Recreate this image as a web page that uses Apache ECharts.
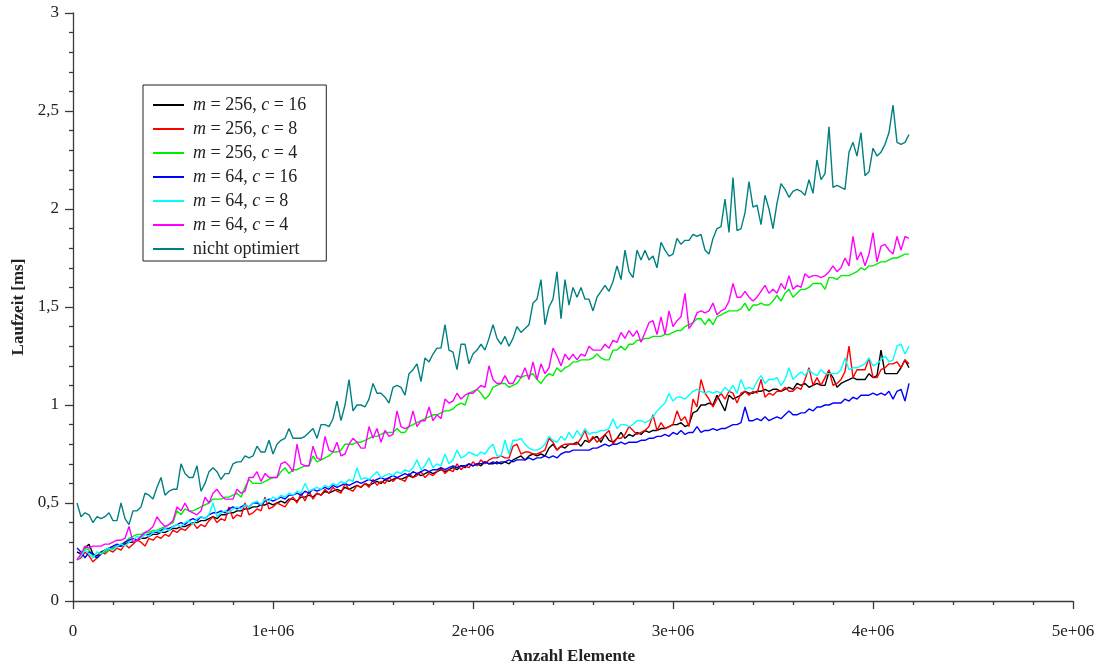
<!DOCTYPE html>
<html>
<head>
<meta charset="utf-8">
<script src="https://cdn.jsdelivr.net/npm/echarts@6/dist/echarts.min.js"></script>
<style>
html,body{margin:0;padding:0;background:#fff;}
#chart{width:1101px;height:664px;}
</style>
</head>
<body>
<div id="chart"></div>
<script>
// x sampling: elements count, step 20000 (209 samples)
const xStep = 20000;

const seriesNames = ['m = 256, c = 16','m = 256, c = 8','m = 256, c = 4','m = 64, c = 16','m = 64, c = 8','m = 64, c = 4','nicht optimiert'];
const seriesColors = ['#000000','#ff0000','#00ee00','#0000ff','#00ffff','#ff00ff','#008080'];

const m256c16 = [
0.25,0.24,0.27,0.29,0.24,0.23,0.25,0.26,0.27,0.27,
0.28,0.28,0.29,0.30,0.30,0.31,0.32,0.32,0.33,0.34,
0.34,0.35,0.35,0.36,0.37,0.37,0.38,0.38,0.39,0.40,
0.40,0.41,0.41,0.42,0.43,0.42,0.44,0.44,0.45,0.45,
0.46,0.46,0.47,0.47,0.48,0.48,0.49,0.49,0.50,0.49,
0.50,0.51,0.50,0.52,0.52,0.51,0.53,0.53,0.54,0.53,
0.55,0.54,0.56,0.55,0.56,0.57,0.56,0.58,0.57,0.58,
0.59,0.58,0.60,0.59,0.60,0.61,0.60,0.62,0.61,0.62,
0.63,0.62,0.63,0.64,0.63,0.65,0.64,0.65,0.66,0.65,
0.66,0.67,0.66,0.67,0.68,0.67,0.69,0.68,0.70,0.69,
0.70,0.69,0.71,0.70,0.70,0.71,0.70,0.71,0.70,0.72,
0.73,0.74,0.72,0.74,0.75,0.74,0.75,0.74,0.78,0.80,
0.77,0.79,0.78,0.80,0.80,0.81,0.79,0.82,0.81,0.83,
0.84,0.81,0.85,0.82,0.81,0.83,0.86,0.83,0.85,0.84,
0.86,0.85,0.87,0.86,0.87,0.87,0.88,0.88,0.89,0.90,
0.90,0.91,0.89,0.90,0.96,0.97,1.00,1.00,1.01,1.00,
1.05,1.01,0.97,1.05,1.03,1.04,1.05,1.07,1.06,1.06,
1.07,1.07,1.08,1.07,1.08,1.08,1.07,1.08,1.09,1.08,
1.11,1.10,1.11,1.09,1.10,1.11,1.10,1.10,1.17,1.14,
1.09,1.11,1.12,1.13,1.14,1.13,1.13,1.13,1.16,1.14,
1.15,1.28,1.16,1.16,1.16,1.16,1.19,1.23,1.19];

const m256c8 = [
0.21,0.22,0.25,0.23,0.20,0.22,0.25,0.24,0.26,0.25,
0.27,0.26,0.29,0.27,0.29,0.31,0.30,0.28,0.32,0.31,
0.33,0.32,0.34,0.33,0.36,0.35,0.37,0.36,0.38,0.40,
0.37,0.39,0.38,0.41,0.43,0.40,0.42,0.41,0.48,0.42,
0.44,0.43,0.50,0.44,0.45,0.47,0.46,0.53,0.47,0.48,
0.50,0.49,0.48,0.51,0.53,0.50,0.55,0.51,0.56,0.52,
0.55,0.54,0.57,0.55,0.58,0.56,0.55,0.60,0.57,0.56,
0.59,0.58,0.60,0.58,0.62,0.59,0.61,0.60,0.63,0.61,
0.63,0.62,0.61,0.65,0.63,0.64,0.66,0.63,0.65,0.64,
0.66,0.68,0.65,0.67,0.66,0.70,0.67,0.69,0.68,0.71,
0.69,0.72,0.70,0.72,0.73,0.73,0.74,0.73,0.73,0.79,
0.80,0.75,0.76,0.76,0.75,0.75,0.76,0.77,0.83,0.81,
0.77,0.79,0.80,0.80,0.80,0.80,0.83,0.87,0.81,0.84,
0.81,0.83,0.85,0.87,0.80,0.83,0.83,0.85,0.89,0.87,
0.85,0.86,0.87,0.89,0.95,0.87,0.91,0.88,0.89,0.90,
0.97,0.92,0.94,0.89,1.03,0.99,1.13,1.06,1.03,0.99,
1.03,1.06,1.03,1.07,1.06,1.01,1.06,1.07,1.05,1.07,
1.06,1.13,1.04,1.06,1.05,1.07,1.07,1.09,1.07,1.07,
1.09,1.08,1.13,1.19,1.10,1.14,1.10,1.14,1.18,1.10,
1.11,1.13,1.17,1.30,1.14,1.18,1.18,1.18,1.24,1.14,
1.14,1.18,1.19,1.21,1.21,1.22,1.19,1.23,1.21];

const m256c4 = [
0.21,0.23,0.27,0.26,0.23,0.22,0.24,0.25,0.26,0.27,
0.28,0.29,0.30,0.32,0.33,0.34,0.34,0.35,0.35,0.36,
0.36,0.37,0.38,0.39,0.40,0.46,0.44,0.47,0.46,0.46,
0.47,0.48,0.49,0.50,0.52,0.52,0.52,0.53,0.53,0.54,
0.55,0.53,0.58,0.62,0.60,0.60,0.60,0.61,0.62,0.63,
0.63,0.66,0.68,0.65,0.67,0.67,0.68,0.69,0.69,0.74,
0.71,0.72,0.73,0.74,0.76,0.76,0.77,0.80,0.80,0.80,
0.81,0.81,0.82,0.83,0.84,0.84,0.85,0.86,0.86,0.86,
0.88,0.86,0.86,0.89,0.90,0.91,0.92,0.93,0.94,0.95,
0.95,0.96,0.97,0.97,0.98,1.00,1.01,1.00,1.06,1.07,
1.08,1.06,1.03,1.05,1.09,1.10,1.11,1.11,1.09,1.10,
1.11,1.14,1.15,1.15,1.16,1.13,1.11,1.14,1.16,1.15,
1.19,1.17,1.19,1.20,1.22,1.22,1.23,1.23,1.23,1.24,
1.26,1.24,1.23,1.23,1.28,1.28,1.30,1.28,1.31,1.31,
1.33,1.33,1.34,1.34,1.35,1.35,1.35,1.36,1.36,1.37,
1.38,1.38,1.40,1.41,1.42,1.44,1.44,1.41,1.44,1.41,
1.45,1.46,1.47,1.48,1.48,1.48,1.49,1.52,1.48,1.51,
1.51,1.52,1.51,1.51,1.53,1.56,1.53,1.57,1.59,1.55,
1.57,1.59,1.59,1.60,1.62,1.62,1.62,1.59,1.65,1.65,
1.64,1.66,1.66,1.66,1.67,1.68,1.70,1.69,1.71,1.71,
1.72,1.73,1.73,1.74,1.75,1.75,1.76,1.77,1.77];

const m64c16 = [
0.27,0.25,0.22,0.25,0.24,0.22,0.24,0.26,0.27,0.28,
0.29,0.28,0.30,0.31,0.32,0.31,0.33,0.34,0.34,0.35,
0.35,0.36,0.37,0.37,0.38,0.39,0.40,0.39,0.41,0.42,
0.41,0.43,0.42,0.44,0.45,0.45,0.46,0.45,0.47,0.48,
0.47,0.48,0.49,0.48,0.50,0.50,0.49,0.51,0.52,0.51,
0.52,0.53,0.52,0.54,0.54,0.55,0.54,0.56,0.55,0.57,
0.56,0.57,0.58,0.57,0.59,0.58,0.59,0.60,0.59,0.60,
0.61,0.60,0.61,0.62,0.61,0.62,0.63,0.62,0.63,0.64,
0.63,0.64,0.65,0.64,0.66,0.65,0.66,0.67,0.66,0.67,
0.67,0.68,0.67,0.68,0.69,0.68,0.69,0.69,0.70,0.69,
0.70,0.70,0.71,0.70,0.71,0.70,0.71,0.71,0.72,0.71,
0.72,0.72,0.72,0.73,0.72,0.73,0.73,0.74,0.73,0.74,
0.73,0.75,0.76,0.76,0.77,0.77,0.77,0.77,0.77,0.78,
0.78,0.79,0.80,0.79,0.80,0.80,0.81,0.80,0.81,0.81,
0.81,0.82,0.82,0.83,0.83,0.84,0.84,0.85,0.84,0.86,
0.85,0.87,0.85,0.86,0.86,0.89,0.86,0.87,0.87,0.88,
0.87,0.88,0.88,0.89,0.90,0.90,0.91,0.99,0.92,0.92,
0.93,0.92,0.94,0.92,0.93,0.94,0.93,0.95,0.97,0.95,
0.95,0.96,0.96,0.98,0.97,0.99,0.99,1.00,1.00,1.01,
1.01,1.01,1.03,1.02,1.04,1.03,1.05,1.05,1.05,1.06,
1.05,1.06,1.05,1.07,1.03,1.07,1.08,1.02,1.11];

const m64c8 = [
0.21,0.23,0.26,0.24,0.22,0.25,0.24,0.26,0.27,0.26,
0.28,0.29,0.28,0.30,0.31,0.33,0.32,0.34,0.33,0.35,
0.36,0.35,0.37,0.36,0.38,0.39,0.38,0.40,0.41,0.39,
0.42,0.43,0.42,0.44,0.50,0.43,0.45,0.46,0.45,0.47,
0.48,0.47,0.49,0.48,0.50,0.51,0.49,0.52,0.51,0.53,
0.52,0.54,0.53,0.55,0.54,0.56,0.55,0.60,0.56,0.57,
0.58,0.57,0.59,0.58,0.60,0.59,0.61,0.60,0.62,0.61,
0.68,0.62,0.63,0.62,0.64,0.66,0.63,0.64,0.65,0.64,
0.66,0.65,0.67,0.66,0.68,0.72,0.67,0.69,0.73,0.68,
0.70,0.69,0.75,0.70,0.72,0.77,0.73,0.74,0.76,0.75,
0.74,0.76,0.75,0.78,0.80,0.74,0.74,0.82,0.75,0.82,
0.82,0.83,0.80,0.78,0.77,0.77,0.78,0.80,0.84,0.82,
0.81,0.84,0.82,0.86,0.83,0.87,0.84,0.88,0.85,0.86,
0.86,0.87,0.87,0.88,0.93,0.88,0.90,0.90,0.89,0.90,
0.92,0.92,0.91,0.92,0.94,0.97,0.99,1.01,1.06,1.02,
1.04,1.04,1.03,1.05,1.07,1.08,1.07,1.06,1.07,1.06,
1.07,1.06,1.09,1.07,1.10,1.06,1.13,1.08,1.09,1.08,
1.12,1.15,1.11,1.13,1.13,1.14,1.10,1.13,1.19,1.13,
1.15,1.17,1.15,1.18,1.16,1.15,1.18,1.16,1.16,1.16,
1.16,1.18,1.24,1.18,1.19,1.19,1.20,1.21,1.24,1.20,
1.21,1.23,1.25,1.22,1.23,1.30,1.31,1.26,1.30];

const m64c4 = [
0.21,0.24,0.28,0.27,0.28,0.28,0.28,0.29,0.29,0.30,
0.31,0.31,0.32,0.38,0.30,0.31,0.33,0.35,0.36,0.38,
0.43,0.40,0.38,0.39,0.41,0.48,0.46,0.50,0.46,0.45,
0.44,0.46,0.53,0.50,0.55,0.57,0.54,0.52,0.52,0.52,
0.57,0.55,0.56,0.63,0.63,0.66,0.61,0.65,0.63,0.63,
0.63,0.70,0.71,0.69,0.66,0.80,0.70,0.69,0.69,0.79,
0.73,0.72,0.84,0.77,0.76,0.81,0.74,0.75,0.80,0.83,
0.81,0.78,0.78,0.89,0.83,0.88,0.81,0.87,0.84,0.85,
0.97,0.89,0.88,0.89,0.97,0.89,0.92,0.92,0.99,0.92,
0.95,0.93,1.03,1.01,1.02,1.06,1.03,1.05,1.06,1.06,
1.08,1.10,1.09,1.20,1.13,1.11,1.11,1.15,1.11,1.11,
1.15,1.14,1.19,1.13,1.22,1.13,1.21,1.16,1.19,1.29,
1.25,1.20,1.26,1.23,1.26,1.23,1.26,1.25,1.30,1.28,
1.28,1.28,1.31,1.29,1.33,1.32,1.37,1.34,1.38,1.35,
1.38,1.32,1.37,1.42,1.43,1.36,1.45,1.36,1.48,1.40,
1.43,1.45,1.57,1.39,1.42,1.47,1.48,1.47,1.48,1.52,
1.46,1.48,1.49,1.53,1.62,1.55,1.55,1.58,1.55,1.53,
1.55,1.58,1.61,1.57,1.59,1.57,1.62,1.59,1.66,1.59,
1.61,1.60,1.67,1.65,1.66,1.66,1.65,1.66,1.68,1.71,
1.68,1.70,1.75,1.71,1.86,1.74,1.78,1.71,1.77,1.88,
1.73,1.81,1.82,1.79,1.77,1.86,1.79,1.86,1.85];

const nichtOptimiert = [
0.50,0.43,0.45,0.44,0.40,0.43,0.42,0.43,0.45,0.41,
0.41,0.50,0.42,0.39,0.46,0.46,0.48,0.55,0.54,0.52,
0.58,0.63,0.54,0.56,0.57,0.57,0.70,0.65,0.63,0.63,
0.69,0.56,0.60,0.66,0.68,0.66,0.62,0.65,0.65,0.70,
0.71,0.71,0.74,0.73,0.74,0.79,0.76,0.76,0.82,0.75,
0.80,0.82,0.83,0.88,0.83,0.83,0.83,0.84,0.86,0.88,
0.83,0.90,0.90,0.89,0.93,1.02,0.92,1.00,1.13,0.97,
1.00,1.00,0.99,1.03,1.11,1.06,1.06,1.04,1.01,1.09,
1.10,1.09,1.05,1.16,1.18,1.21,1.12,1.24,1.22,1.26,
1.29,1.29,1.41,1.28,1.27,1.18,1.31,1.31,1.21,1.26,
1.28,1.31,1.28,1.34,1.41,1.34,1.31,1.35,1.30,1.34,
1.40,1.37,1.39,1.41,1.52,1.54,1.64,1.41,1.50,1.54,
1.68,1.44,1.64,1.51,1.60,1.55,1.60,1.54,1.54,1.48,
1.55,1.58,1.61,1.58,1.63,1.71,1.64,1.79,1.68,1.65,
1.79,1.74,1.79,1.74,1.76,1.70,1.83,1.79,1.76,1.77,
1.85,1.82,1.84,1.84,1.87,1.86,1.87,1.79,1.77,1.85,
1.90,1.91,2.05,1.88,2.16,1.89,1.90,1.98,2.14,2.01,
2.02,1.92,2.07,2.00,1.90,2.03,2.13,2.10,2.06,2.09,
2.10,2.09,2.07,2.15,2.08,2.25,2.15,2.18,2.42,2.11,
2.12,2.11,2.10,2.29,2.34,2.27,2.39,2.17,2.19,2.31,
2.27,2.29,2.33,2.39,2.53,2.34,2.33,2.34,2.38];

const allValues = [m256c16, m256c8, m256c4, m64c16, m64c8, m64c4, nichtOptimiert];

const FONT = 'Liberation Serif';
const chart = echarts.init(document.getElementById('chart'), null, {renderer: 'canvas'});

const series = allValues.map((vals, k) => ({
  name: seriesNames[k],
  type: 'line',
  data: vals.map((v, i) => [(i + 1) * xStep, v]),
  showSymbol: false,
  symbol: 'none',
  lineStyle: {color: seriesColors[k], width: 1.4},
  itemStyle: {color: seriesColors[k]},
  emphasis: {disabled: true},
  animation: false
}));

const axisLineStyle = {color: '#3a3a3a', width: 1.3};

chart.setOption({
  animation: false,
  backgroundColor: '#ffffff',
  grid: {left: 73, right: 28, top: 13, bottom: 63, containLabel: false, outerBoundsMode: 'none'},
  legend: {
    orient: 'vertical',
    left: 143,
    top: 85,
    padding: [11, 20, 3, 10],
    backgroundColor: '#ffffff',
    borderColor: '#222222',
    borderWidth: 1,
    borderRadius: 0,
    itemWidth: 31,
    itemHeight: 2,
    itemGap: 6,
    icon: 'rect',
    data: seriesNames,
    formatter: function (name) {
      return name.replace(/\b([mc])\b/g, '{i|$1}');
    },
    textStyle: {
      fontFamily: FONT, fontSize: 18, color: '#222', lineHeight: 18, padding: [0, 0, 0, 4],
      rich: {i: {fontFamily: FONT, fontStyle: 'italic', fontSize: 18, color: '#222', lineHeight: 18}}
    }
  },
  xAxis: {
    type: 'value',
    min: 0, max: 5000000, interval: 1000000,
    name: 'Anzahl Elemente',
    nameLocation: 'middle',
    nameGap: 47,
    nameTextStyle: {fontFamily: FONT, fontSize: 17, fontWeight: 'bold', color: '#222'},
    axisLine: {show: true, lineStyle: axisLineStyle},
    axisTick: {show: true, length: 8, lineStyle: axisLineStyle},
    minorTick: {show: true, splitNumber: 5, length: 4, lineStyle: axisLineStyle},
    splitLine: {show: false},
    axisLabel: {
      fontFamily: FONT, fontSize: 17, color: '#222', margin: 22,
      formatter: v => v === 0 ? '0' : (v / 1000000) + 'e+06'
    }
  },
  yAxis: {
    type: 'value',
    min: 0, max: 3, interval: 0.5,
    name: 'Laufzeit [ms]',
    nameLocation: 'middle',
    nameGap: 42,
    nameRotate: 90,
    nameTextStyle: {fontFamily: FONT, fontSize: 17, fontWeight: 'bold', color: '#222'},
    axisLine: {show: true, lineStyle: axisLineStyle},
    axisTick: {show: true, length: 8, lineStyle: axisLineStyle},
    minorTick: {show: true, splitNumber: 5, length: 4, lineStyle: axisLineStyle},
    splitLine: {show: false},
    axisLabel: {
      fontFamily: FONT, fontSize: 17, color: '#222', margin: 14,
      formatter: v => String(v).replace('.', ',')
    }
  },
  series: series
});
</script>
</body>
</html>
